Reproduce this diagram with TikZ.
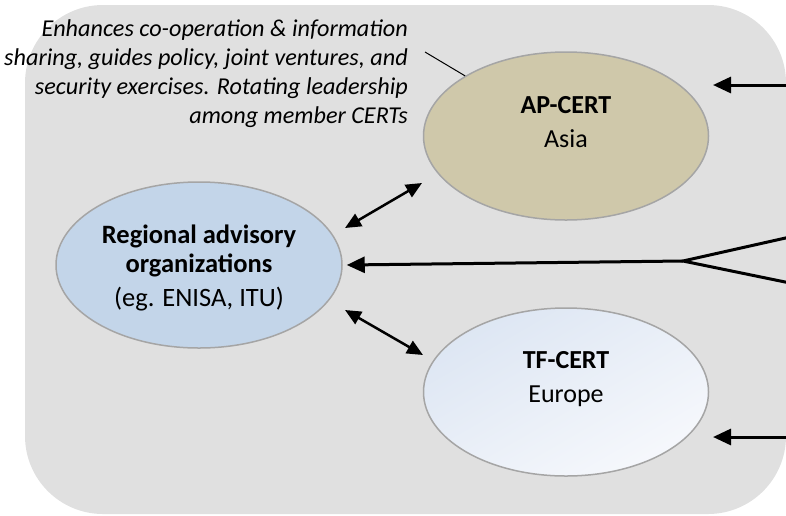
\documentclass[tikz,border=0pt]{standalone}
\usepackage{fontspec}
\setmainfont{Carlito}
\usetikzlibrary{arrows.meta,shapes.geometric}
\definecolor{panelgray}{RGB}{224,224,224}
\definecolor{asiatan}{RGB}{207,200,170}
\definecolor{advisoryblue}{RGB}{195,213,233}
\definecolor{europetop}{RGB}{221,230,243}
\definecolor{europebottom}{RGB}{246,248,252}
\definecolor{rimgray}{RGB}{165,165,165}
\tikzset{
  cert/.style={ellipse, draw=rimgray, line width=1.5pt, minimum width=285pt,
    minimum height=168pt, inner sep=0pt, align=center, text depth=0pt,
    font={\fontsize{26}{34}\selectfont}},
  remark/.style={inner sep=0pt, align=right,
    font={\itshape\fontsize{24.2}{29}\selectfont}},
  link/.style={line width=3pt, -{Triangle[length=18pt,width=16pt]}},
  twoway/.style={line width=2.5pt,
    {Triangle[length=16pt,width=14pt]}-{Triangle[length=16pt,width=14pt]}},
}

\begin{document}
\begin{tikzpicture}[x=1pt, y=-1pt]
    \useasboundingbox (0,0) rectangle (786,515);
    \fill[panelgray, rounded corners=78pt] (25,5) rectangle (786,514);

    % the three bodies
    \node[cert, fill=asiatan, text height=22pt] (ap) at (566,136)
        {\textbf{AP-CERT}\\Asia};
    \node[cert, fill=advisoryblue, minimum width=286pt, minimum height=166pt,
        text height=82pt, font={\fontsize{26.5}{34}\selectfont}] (rao) at (199,265)
        {\textbf{Regional advisory}\\[-5pt]\textbf{organizations}\\(eg. ENISA, ITU)};
    \node[cert, shading=axis, left color=europetop, right color=europebottom,
        shading angle=30, text height=20pt] (tf) at (566,392)
        {\textbf{TF-CERT}\\Europe};

    % remark on AP-CERT
    \node[remark, anchor=base east] (remit) at (408,123)
        {Enhances co-operation \& information\\
         sharing, guides policy, joint ventures, and\\
         security exercises. Rotating leadership\\
         among member CERTs};
    \coordinate (remit-tip) at (425,52);
    \draw[line width=1pt] (remit-tip) -- (ap);

    % feeds from the right
    \coordinate (asia-feed) at (790,85);
    \coordinate (asia-in) at (713,85);
    \draw[link] (asia-feed) -- (asia-in);
    \coordinate (europe-feed) at (790,437);
    \coordinate (europe-in) at (713,437);
    \draw[link] (europe-feed) -- (europe-in);
    \coordinate (fork) at (683,261);
    \coordinate (fork-a) at (790,237);
    \coordinate (fork-b) at (790,283);
    \draw[line width=3pt] (fork-a) -- (fork) -- (fork-b);
    \draw[link] (fork) -- ([xshift=4pt]rao.east);

    % advisory links
    \coordinate (rao-asia) at (345,228);
    \coordinate (asia-rao) at (422,183);
    \draw[twoway] (rao-asia) -- (asia-rao);
    \coordinate (rao-europe) at (345,310);
    \coordinate (europe-rao) at (423,355);
    \draw[twoway] (rao-europe) -- (europe-rao);
\end{tikzpicture}
\end{document}
